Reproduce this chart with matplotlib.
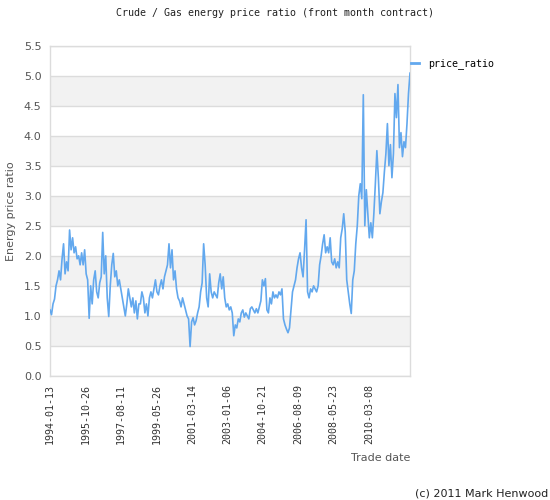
"""
Crude / Gas energy price ratio, front month contract.
Values read off the reference chart (two readings per ~3 px column).
"""

import numpy as np
import matplotlib
matplotlib.use("Agg")
import matplotlib.pyplot as plt

# -- data --------------------------------------------------------------
price_ratio = [
    # 1994 - 1996
    1.10, 1.02, 1.20, 1.28, 1.50, 1.60, 1.75, 1.60, 1.95, 2.20,
    1.70, 1.90, 1.75, 2.43, 2.10, 2.30, 2.05, 2.15, 1.95, 2.00,
    1.85, 2.05, 1.85, 2.10, 1.70, 1.60, 0.96, 1.50, 1.20, 1.60,
    1.75, 1.40, 1.30, 1.55, 1.65, 2.39, 1.70, 2.00, 1.30, 0.99,
    1.50, 1.85, 2.04, 1.65, 1.75, 1.50, 1.60, 1.45, 1.30, 1.15,
    1.00, 1.20, 1.45, 1.30, 1.15, 1.30, 1.05, 1.25, 0.95, 1.20,
    # 1999 - 2002
    1.20, 1.40, 1.30, 1.05, 1.20, 1.00, 1.30, 1.40, 1.30, 1.45,
    1.60, 1.40, 1.35, 1.50, 1.60, 1.45, 1.65, 1.75, 1.85, 2.20,
    1.80, 2.10, 1.60, 1.75, 1.45, 1.30, 1.25, 1.15, 1.30, 1.20,
    1.10, 1.00, 0.95, 0.49, 0.90, 0.97, 0.85, 0.92, 1.05, 1.15,
    1.40, 1.55, 2.20, 1.85, 1.30, 1.15, 1.70, 1.40, 1.30, 1.40,
    1.35, 1.30, 1.55, 1.70, 1.45, 1.65, 1.30, 1.15,
    # 2003 - 2007
    1.20, 1.10, 1.15, 1.05, 0.67, 0.85, 0.80, 0.95, 0.90, 1.05,
    1.10, 0.98, 1.05, 1.00, 0.95, 1.12, 1.15, 1.10, 1.05, 1.12,
    1.05, 1.15, 1.25, 1.60, 1.50, 1.62, 1.10, 1.05, 1.30, 1.20,
    1.40, 1.30, 1.35, 1.30, 1.40, 1.35, 1.45, 0.95, 0.85, 0.78,
    0.72, 0.80, 1.10, 1.40, 1.50, 1.60, 1.80, 1.95, 2.05, 1.80,
    1.65, 2.10, 2.60, 1.40, 1.30, 1.45, 1.40, 1.50,
    # 2007 - 2011
    1.45, 1.40, 1.50, 1.85, 2.00, 2.20, 2.35, 2.05, 2.15, 2.05,
    2.30, 1.90, 1.85, 1.95, 1.80, 1.90, 1.80, 2.30, 2.45, 2.70,
    2.40, 1.60, 1.40, 1.20, 1.04, 1.60, 1.75, 2.20, 2.50, 3.00,
    3.20, 2.95, 4.68, 2.50, 3.10, 2.70, 2.30, 2.55, 2.30, 2.70,
    3.20, 3.75, 3.30, 2.70, 2.90, 3.05, 3.40, 3.70, 4.20, 3.50,
    3.85, 3.30, 3.70, 4.70, 4.30, 4.85, 3.80, 4.05, 3.65, 3.90,
    3.80, 4.20, 4.70, 5.04,
]

tick_labels = [
    "1994-01-13", "1995-10-26", "1997-08-11", "1999-05-26", "2001-03-14",
    "2003-01-06", "2004-10-21", "2006-08-09", "2008-05-23", "2010-03-08",
]

# -- style -------------------------------------------------------------
LINE_COLOR = "#62a8ee"
GRID_COLOR = "#dcdcdc"
BAND_COLOR = "#f2f2f2"
TEXT_GRAY = "#555555"
MONO = "DejaVu Sans Mono"

fig = plt.figure(figsize=(5.5, 5.0), dpi=100)
ax = fig.add_axes([50 / 550, 1 - 376 / 500, 360 / 550, 330.5 / 500])

n = len(price_ratio)
x = np.arange(n)
ax.plot(x, price_ratio, color=LINE_COLOR, lw=1.2, label="price_ratio", zorder=3)

ax.set_xlim(0, n - 1)
ax.set_ylim(0, 5.5)

# alternating bands + grid
yt = np.arange(0, 5.51, 0.5)
for lo in np.arange(0.5, 5.0, 1.0):
    ax.axhspan(lo, lo + 0.5, color=BAND_COLOR, zorder=0, lw=0)
ax.set_yticks(yt)
ax.set_yticklabels([f"{v:.1f}" for v in yt], color=TEXT_GRAY, fontsize=8)
ax.grid(True, axis="y", color=GRID_COLOR, lw=1.0, zorder=1)
ax.set_axisbelow(True)

step = n * 35.3 / 360
ax.set_xticks([i * step for i in range(len(tick_labels))])
ax.set_xticklabels(tick_labels, rotation=90, family=MONO, fontsize=7.2, color="#333333")
ax.tick_params(length=0, pad=6)

for s in ax.spines.values():
    s.set_color(GRID_COLOR)
    s.set_linewidth(1.0)

ax.set_ylabel("Energy price ratio", color=TEXT_GRAY, fontsize=8, labelpad=6)
fig.text(410 / 550, 1 - 458 / 500, "Trade date", ha="right", va="center",
         color=TEXT_GRAY, fontsize=8)

fig.text(0.5, 1 - 13 / 500, "Crude / Gas energy price ratio (front month contract)",
         ha="center", va="center", family=MONO, fontsize=7.2, color="#222222")

leg = ax.legend(loc="upper left", bbox_to_anchor=(1.0, 0.965), frameon=False,
                handlelength=0.8, handletextpad=0.9, borderaxespad=0.0,
                borderpad=0.1, prop={"family": MONO, "size": 7.2})
for h in leg.get_lines():
    h.set_linewidth(2.0)

fig.text(548 / 550, 1 - 493 / 500, "(c) 2011 Mark Henwood", ha="right", va="center",
         fontsize=8, color="#222222")

fig.savefig("out.png", dpi=100)
